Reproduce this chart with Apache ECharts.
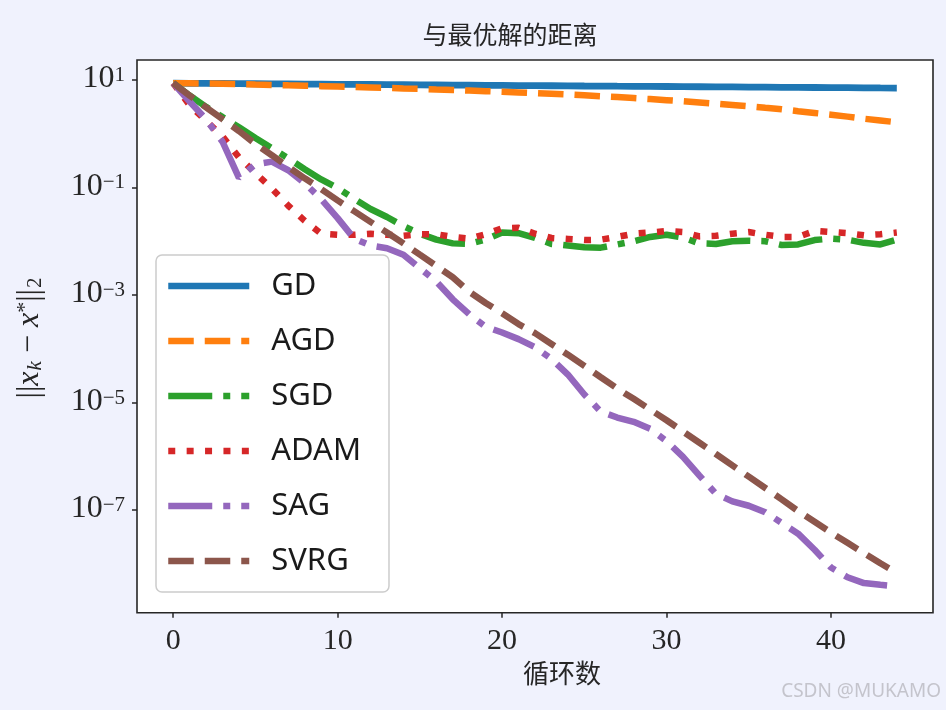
<!DOCTYPE html>
<html>
<head>
<meta charset="utf-8">
<script src="https://cdn.jsdelivr.net/npm/echarts@6/dist/echarts.min.js"></script>
<style>
html,body{margin:0;padding:0;background:#f0f2fd;}
#main{width:946px;height:710px;}
</style>
</head>
<body>
<div id="main"></div>
<script>
// ---- data ----
const iterations = [0,1,2,3,4,5,6,7,8,9,10,11,12,13,14,15,16,17,18,19,20,21,22,23,24,25,26,27,28,29,30,31,32,33,34,35,36,37,38,39,40,41,42,43,44];
const seriesNames = ['GD','AGD','SGD','ADAM','SAG','SVRG'];
const gdValues = [8.70,8.66,8.62,8.58,8.54,8.50,8.46,8.42,8.38,8.34,8.30,8.26,8.22,8.18,8.14,8.10,8.06,8.02,7.99,7.95,7.91,7.87,7.84,7.80,7.76,7.72,7.69,7.65,7.62,7.58,7.55,7.51,7.48,7.44,7.41,7.37,7.34,7.30,7.27,7.24,7.20,7.17,7.14,7.10,7.07];
const agdValues = [8.71,8.65,8.57,8.47,8.36,8.22,8.09,7.94,7.80,7.66,7.52,7.38,7.24,7.10,6.95,6.81,6.65,6.50,6.35,6.19,6.04,5.87,5.70,5.53,5.36,5.18,4.99,4.80,4.60,4.41,4.21,4.01,3.81,3.61,3.42,3.23,3.03,2.85,2.62,2.43,2.25,2.08,1.90,1.76,1.63];
const sgdValues = [8.71,5.13,3.16,2.04,1.32,0.832,0.537,0.347,0.219,0.141,0.0977,0.0617,0.0398,0.0282,0.0191,0.0138,0.0107,0.00912,0.00891,0.0107,0.0145,0.0141,0.0115,0.00891,0.00832,0.00776,0.00759,0.00871,0.0100,0.0120,0.0132,0.0117,0.00912,0.00891,0.0100,0.0102,0.0100,0.00851,0.00871,0.0105,0.0112,0.0107,0.00933,0.00871,0.0107];
const adamValues = [8.71,3.39,1.74,0.891,0.363,0.186,0.0955,0.0457,0.0240,0.0138,0.0132,0.0132,0.0138,0.0132,0.0126,0.0135,0.0135,0.0120,0.0112,0.0135,0.0174,0.0178,0.0138,0.0115,0.0110,0.0105,0.0107,0.0120,0.0138,0.0145,0.0155,0.0148,0.0123,0.0126,0.0138,0.0148,0.0132,0.0120,0.0120,0.0155,0.0148,0.0141,0.0129,0.0135,0.0145];
const sagValues = [8.71,3.98,1.86,0.708,0.151,0.269,0.302,0.209,0.120,0.0603,0.0269,0.0112,0.00832,0.00741,0.00562,0.00316,0.00178,8.32e-4,4.37e-4,2.57e-4,2.00e-4,1.51e-4,1.07e-4,6.46e-5,3.31e-5,1.41e-5,6.76e-6,5.25e-6,4.37e-6,3.24e-6,1.91e-6,9.77e-7,4.37e-7,2.00e-7,1.45e-7,1.20e-7,9.12e-8,5.75e-8,3.63e-8,1.82e-8,8.51e-9,5.62e-9,4.37e-9,4.07e-9,3.80e-9];
const svrgValues = [8.71,5.13,3.09,1.86,1.12,0.646,0.398,0.240,0.148,0.0933,0.0575,0.0363,0.0229,0.0145,0.00912,0.00562,0.00347,0.00214,0.00115,7.08e-4,4.57e-4,2.88e-4,1.95e-4,1.23e-4,7.76e-5,4.79e-5,2.95e-5,1.82e-5,1.17e-5,7.41e-6,4.68e-6,2.88e-6,1.78e-6,1.10e-6,6.76e-7,4.17e-7,2.57e-7,1.58e-7,9.55e-8,6.03e-8,3.80e-8,2.45e-8,1.58e-8,1.02e-8,6.76e-9];
const xTickValues = [0,10,20,30,40];
const yTickValues = [1e-7,1e-5,1e-3,1e-1,10];
const titleText = '与最优解的距离';
const xAxisName = '循环数';
const watermark = 'CSDN @MUKAMO';

// ---- styles ----
const allValues = [gdValues, agdValues, sgdValues, adamValues, sagValues, svrgValues];
const colors = ['#1f77b4','#ff7f0e','#2ca02c','#d62728','#9467bd','#8c564b'];
const dashes = ['solid', [25.5, 11], [44, 11, 7, 11], [7, 11.4], [44, 11, 7, 11], [25.5, 11]];
const widths = [6.8, 6.5, 6.5, 6.5, 6.5, 6.5];

const series = seriesNames.map((name, i) => ({
  name: name,
  type: 'line',
  symbol: 'none',
  showSymbol: false,
  smooth: false,
  data: iterations.map((x, j) => [x, allValues[i][j]]),
  lineStyle: { color: colors[i], width: widths[i], type: dashes[i], cap: 'butt' },
  itemStyle: { color: colors[i] },
  z: 2 + i
}));

const serif = '"Liberation Serif", "DejaVu Serif", serif';
const cjk = '"Noto Sans CJK SC", "Noto Sans", sans-serif';

const chart = echarts.init(document.getElementById('main'), null, { renderer: 'canvas' });
chart.setOption({
  backgroundColor: '#f0f2fd',
  animation: false,
  grid: {
    left: 137, top: 60, width: 796, height: 552.7,
    show: true, backgroundColor: '#ffffff', borderColor: '#262626', borderWidth: 1.6
  },
  xAxis: {
    type: 'value', min: -2.2, max: 46.2,
    axisLine: { show: false, onZero: false },
    splitLine: { show: false },
    axisTick: { show: true, customValues: xTickValues, length: 5, lineStyle: { color: '#262626', width: 1.5 } },
    axisLabel: { customValues: xTickValues, margin: 13, fontFamily: serif, fontSize: 30, color: '#262626' }
  },
  yAxis: {
    type: 'log', logBase: 10, min: 1.23e-9, max: 23.5,
    axisLine: { show: false, onZero: false },
    splitLine: { show: false },
    minorTick: { show: false },
    axisTick: { show: true, customValues: yTickValues, length: 5, lineStyle: { color: '#262626', width: 1.5 } },
    axisLabel: {
      customValues: yTickValues,
      margin: 12,
      formatter: function (v) {
        const e = Math.round(Math.log10(v));
        return '{b|10}{e|' + (e < 0 ? '\u2212' + (-e) : String(e)) + '}';
      },
      rich: {
        b: { fontFamily: serif, fontSize: 32, color: '#262626', lineHeight: 30, verticalAlign: 'bottom', padding: [7, 0, 0, 0] },
        e: { fontFamily: serif, fontSize: 21, color: '#262626', lineHeight: 21, verticalAlign: 'top' }
      }
    }
  },
  legend: {
    orient: 'vertical', left: 156, top: 255,
    padding: [14, 28, 14, 9],
    itemGap: 21, itemWidth: 81, itemHeight: 34,
    backgroundColor: 'rgba(255,255,255,0.85)',
    borderColor: '#cccccc', borderWidth: 1.5, borderRadius: 6,
    lineStyle: { width: 6.5 },
    itemStyle: { opacity: 0, borderWidth: 0 },
    textStyle: { fontFamily: '"Noto Sans", "Open Sans", sans-serif', fontSize: 31, color: '#1a1a1a', lineHeight: 34, padding: [0, 0, 0, 17] },
    data: seriesNames
  },
  graphic: [
    { type: 'text', x: 510, y: 34, z: 100,
      style: { text: titleText, font: '25px ' + cjk, fill: '#262626', textAlign: 'center', textVerticalAlign: 'middle' } },
    { type: 'text', x: 562, y: 673, z: 100,
      style: { text: xAxisName, font: '26px ' + cjk, fill: '#262626', textAlign: 'center', textVerticalAlign: 'middle' } },
    { type: 'text', x: 30, y: 338, rotation: Math.PI / 2, z: 100,
      style: {
        text: '{n|||}{i|x}{sk|k}{n| \u2212 }{i|x}{p|*}{n|||}{s2|2}',
        textAlign: 'center', textVerticalAlign: 'middle',
        rich: {
          n: { fontFamily: serif, fontSize: 32, fill: '#262626', lineHeight: 32, verticalAlign: 'top' },
          i: { fontFamily: serif, fontStyle: 'italic', fontSize: 32, fill: '#262626', lineHeight: 32, verticalAlign: 'top' },
          sk: { fontFamily: serif, fontStyle: 'italic', fontSize: 21, fill: '#262626', lineHeight: 20, verticalAlign: 'bottom', padding: [18, 0, 0, 1] },
          s2: { fontFamily: serif, fontSize: 21, fill: '#262626', lineHeight: 20, verticalAlign: 'bottom', padding: [18, 0, 0, 1] },
          p: { fontFamily: serif, fontSize: 22, fill: '#262626', lineHeight: 20, verticalAlign: 'top' }
        }
      } },
    { type: 'text', right: 5, top: 682, z: 100,
      style: { text: watermark, font: '19px "Noto Sans", sans-serif', fill: '#c4c4cc' } }
  ],
  series: series
});
</script>
</body>
</html>
